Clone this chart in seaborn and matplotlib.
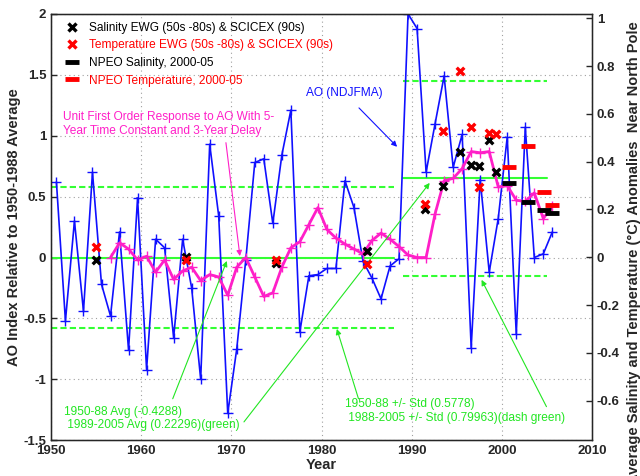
import matplotlib
matplotlib.use('Agg')
import matplotlib.pyplot as plt
import seaborn as sns
import pandas as pd
from matplotlib.lines import Line2D
from matplotlib.ticker import FuncFormatter, MultipleLocator

sns.set_style('white')
plt.rcParams['font.family'] = ['Liberation Sans', 'DejaVu Sans']
plt.rcParams['axes.unicode_minus'] = False

# ---------------- data ----------------
ao_years = list(range(1950, 2006))
ao_values = [0.62, -0.52, 0.30, -0.44, 0.70, -0.22, -0.48, 0.21, -0.76, 0.49,
             -0.92, 0.15, 0.08, -0.66, 0.15, -0.25, -1.00, 0.93, 0.34, -1.28,
             -0.75, -0.02, 0.78, 0.81, 0.28, 0.84, 1.21, -0.61, -0.15, -0.14,
             -0.09, -0.09, 0.63, 0.41, -0.03, -0.17, -0.34, -0.07, -0.01, 2.00,
             1.88, 0.70, 1.10, 1.49, 0.74, 1.01, -0.74, 0.64, -0.12, 0.32,
             0.99, -0.63, 1.07, 0.00, 0.03, 0.21]
resp_years = list(range(1956, 2006))
resp_values = [0.00, 0.12, 0.07, -0.02, 0.01, -0.12, -0.02, -0.18, -0.11, -0.08,
               -0.19, -0.14, -0.16, -0.31, -0.08, 0.00, -0.16, -0.32, -0.29, -0.08,
               0.08, 0.13, 0.27, 0.41, 0.23, 0.16, 0.11, 0.07, 0.03, 0.14,
               0.20, 0.15, 0.09, 0.02, 0.00, 0.00, 0.36, 0.63, 0.65, 0.73,
               0.87, 0.86, 0.87, 0.58, 0.59, 0.47, 0.46, 0.53, 0.32, 0.42]
season_offset = 0.6

ewg_years = [1955.0, 1965.0, 1975.0, 1985.0, 1991.5, 1993.5, 1995.35, 1996.55,
             1997.5, 1998.55, 1999.4]
ewg_salinity = [-0.013, 0.0, -0.025, 0.025, 0.202, 0.30, 0.44, 0.386, 0.382, 0.49, 0.358]
ewg_temperature = [0.044, -0.012, -0.01, -0.03, 0.223, 0.528, 0.78, 0.546, 0.295, 0.521, 0.516]

npeo_years = [2000.8, 2002.85, 2004.65, 2005.6]
npeo_salinity = [0.31, 0.233, 0.198, 0.187]
npeo_temperature = [0.377, 0.467, 0.274, 0.219]

early_period = [1950, 1988]
late_period = [1989, 2005]
early_avg = 0.0
early_std = 0.5778
late_avg = 0.22296 + 0.4288
late_std = 0.79963

# ---------------- figure ----------------
fig = plt.figure(figsize=(6.4, 4.76), dpi=100)
ax = fig.add_axes([0.0797, 0.0752, 0.8453, 0.8956])

blue = '#1010ff'
pink = '#ff1fc8'
line_green = '#33ff33'
tg = '#22e622'
FS = 8.6

ax.grid(True, linestyle=(0, (1, 3)), color='#a0a0a0', linewidth=0.8)

# green reference lines
for period, avg, std in ((early_period, early_avg, early_std),
                         (late_period, late_avg, late_std)):
    df = pd.DataFrame({'x': period * 3,
                       'y': [avg] * 2 + [avg + std] * 2 + [avg - std] * 2,
                       'g': ['m', 'm', 'u', 'u', 'l', 'l']})
    for g, ls in (('m', '-'), ('u', (0, (3, 1.5))), ('l', (0, (3, 1.5)))):
        sns.lineplot(data=df[df['g'] == g], x='x', y='y', ax=ax, color=line_green,
                     lw=1.5, linestyle=ls, legend=False)

df_ao = pd.DataFrame({'year': [y + season_offset for y in ao_years], 'ao': ao_values})
sns.lineplot(data=df_ao, x='year', y='ao', ax=ax, color=blue, lw=1.2,
             marker='+', markersize=7.5, markeredgewidth=1.0, markeredgecolor=blue,
             legend=False)
df_r = pd.DataFrame({'year': [y + season_offset for y in resp_years], 'r': resp_values})
sns.lineplot(data=df_r, x='year', y='r', ax=ax, color=pink, lw=2.0,
             marker='+', markersize=7.5, markeredgewidth=1.0, markeredgecolor=pink,
             legend=False)

ax.set_xlim(1950, 2010)
ax.set_ylim(-1.5, 2)
ax.xaxis.set_major_locator(MultipleLocator(10))
ax.yaxis.set_major_locator(MultipleLocator(0.5))
fmt = FuncFormatter(lambda v, p: '{:g}'.format(round(v, 2)))
ax.yaxis.set_major_formatter(fmt)
ax.tick_params(direction='in', length=4, labelsize=9.5, width=1)
for lab in ax.get_xticklabels() + ax.get_yticklabels():
    lab.set_fontweight('bold')
ax.set_xlabel('Year', fontsize=10.5, fontweight='bold', labelpad=1)
ax.set_ylabel('AO Index Relative to 1950-1988 Average', fontsize=10.5,
              fontweight='bold')
ax.yaxis.set_label_coords(-0.056, 0.5)
for s in ax.spines.values():
    s.set_color('black')
    s.set_linewidth(1.0)

# ---------------- right axis ----------------
ax2 = ax.twinx()
ax2.set_ylim(-0.765, 1.018)
ax2.yaxis.set_major_locator(MultipleLocator(0.2))
ax2.yaxis.set_major_formatter(fmt)
ax2.tick_params(direction='in', length=4, labelsize=9.5, width=1)
for lab in ax2.get_yticklabels():
    lab.set_fontweight('bold')
ax2.set_ylabel('Average Salinity and Temperature (\u00b0C) Anomalies  Near North Pole',
               fontsize=10.5, fontweight='bold')
ax2.yaxis.set_label_coords(1.064, 0.44)

sns.scatterplot(x=ewg_years, y=ewg_salinity, ax=ax2, marker='x', color='black',
                s=30, linewidth=2.4, legend=False, zorder=5)
sns.scatterplot(x=ewg_years, y=ewg_temperature, ax=ax2, marker='x', color='red',
                s=30, linewidth=2.4, legend=False, zorder=5)
sns.scatterplot(x=npeo_years, y=npeo_salinity, ax=ax2, marker='_', color='black',
                s=110, linewidth=3.5, legend=False, zorder=5)
sns.scatterplot(x=npeo_years, y=npeo_temperature, ax=ax2, marker='_', color='red',
                s=110, linewidth=3.5, legend=False, zorder=5)
ax2.set_xlim(1950, 2010)

handles = [
    Line2D([], [], ls='none', marker='x', color='black', mew=2.4, ms=5.5),
    Line2D([], [], ls='none', marker='x', color='red', mew=2.4, ms=5.5),
    Line2D([], [], ls='none', marker='_', color='black', mew=3.5, ms=10),
    Line2D([], [], ls='none', marker='_', color='red', mew=3.5, ms=10),
]
labels = ['Salinity EWG (50s -80s) & SCICEX (90s)',
          'Temperature EWG (50s -80s) & SCICEX (90s)',
          'NPEO Salinity, 2000-05',
          'NPEO Temperature, 2000-05']
leg = ax2.legend(handles, labels, loc='upper left', bbox_to_anchor=(0.008, 1.004),
                 frameon=False, fontsize=FS, handlelength=1.2, handletextpad=0.8,
                 labelspacing=0.47, borderaxespad=0.4, labelcolor='linecolor')

# ---------------- annotations ----------------
ax2.set_zorder(ax.get_zorder() + 1)
ax2.patch.set_visible(False)

k = 0.51  # left-axis units -> right-axis units
ax2.annotate('AO (NDJFMA)', xy=(1988.6, 0.89 * k), xytext=(1982.5, 1.35 * k),
             color=blue, fontsize=FS, ha='center', va='center',
             arrowprops=dict(arrowstyle='-|>', color=blue, lw=0.8, mutation_scale=8,
                             shrinkA=6))
ax2.text(1951.3, 0.557,
         'Unit First Order Response to AO With 5-\nYear Time Constant and 3-Year Delay',
         color=pink, fontsize=FS, ha='left', va='center', linespacing=1.2)
ax2.annotate('', xy=(1970.95, 0.01 * k), xytext=(1969.4, 0.94 * k),
             arrowprops=dict(arrowstyle='-|>', color=pink, lw=0.8, mutation_scale=8,
                             shrinkA=0, shrinkB=0))

ax2.text(1951.4, -0.674, '1950-88 Avg (-0.4288)\n 1989-2005 Avg (0.22296)(green)',
         color=tg, fontsize=FS, ha='left', va='center', linespacing=1.2)
ax2.annotate('', xy=(1969.5, -0.03 * k), xytext=(1963.5, -1.16 * k),
             arrowprops=dict(arrowstyle='-|>', color=tg, lw=0.8, mutation_scale=8,
                             shrinkA=0, shrinkB=0))
ax2.annotate('', xy=(1992.0, 0.61 * k), xytext=(1971.4, -1.35 * k),
             arrowprops=dict(arrowstyle='-|>', color=tg, lw=0.8, mutation_scale=8,
                             shrinkA=0, shrinkB=0))
ax2.text(1982.6, -0.642, '1950-88 +/- Std (0.5778)\n 1988-2005 +/- Std (0.79963)(dash green)',
         color=tg, fontsize=FS, ha='left', va='center', linespacing=1.2)
ax2.annotate('', xy=(1981.7, -0.587 * k), xytext=(1984.1, -1.16 * k),
             arrowprops=dict(arrowstyle='-|>', color=tg, lw=0.8, mutation_scale=8,
                             shrinkA=0, shrinkB=0))
ax2.annotate('', xy=(1997.75, -0.185 * k), xytext=(2004.95, -1.225 * k),
             arrowprops=dict(arrowstyle='-|>', color=tg, lw=0.8, mutation_scale=8,
                             shrinkA=0, shrinkB=0))

fig.savefig('out.png', dpi=100)
